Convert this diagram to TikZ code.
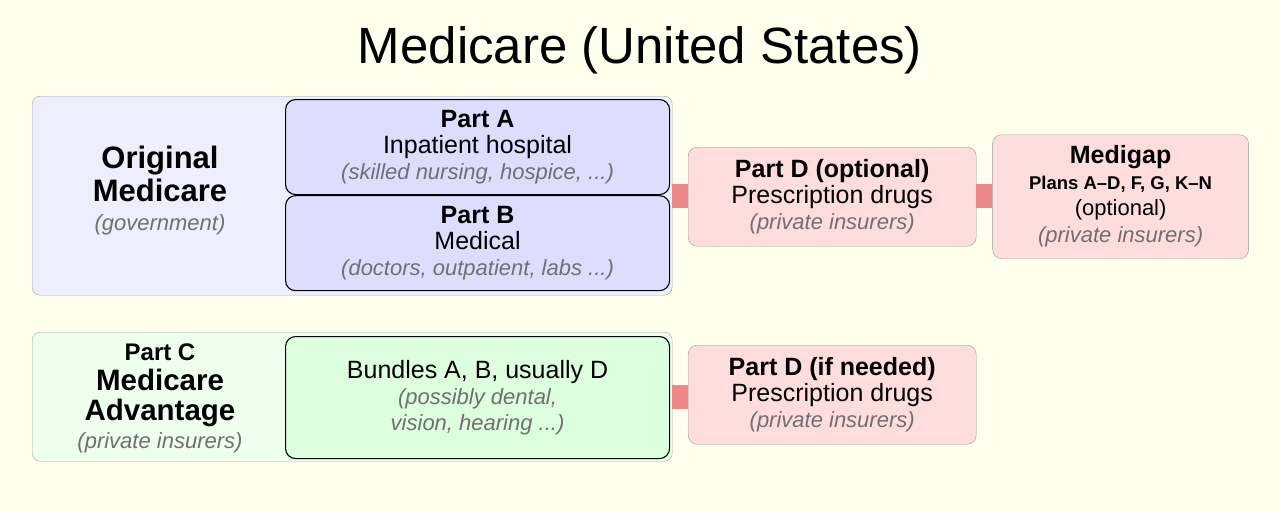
\documentclass[tikz,border=0pt]{standalone}
\usepackage{fontspec}
\setmainfont{Liberation Sans}
\usetikzlibrary{positioning}

\definecolor{paper}{HTML}{FFFFEE}
\definecolor{origfill}{HTML}{EEEEFF}
\definecolor{partfill}{HTML}{DDDDFF}
\definecolor{advfill}{HTML}{EEFFEE}
\definecolor{bundfill}{HTML}{DDFFDD}
\definecolor{drugfill}{HTML}{FFDDDD}
\definecolor{linkred}{HTML}{EE8888}
\definecolor{note}{HTML}{707070}

\newcommand{\fs}[2]{\fontsize{#1}{#2}\selectfont}
\newcommand{\aside}[1]{{\fs{22}{26}\itshape\color{note}#1}}

\begin{document}
\begin{tikzpicture}[
        x=1pt, y=-1pt,
        every node/.style={align=center, inner sep=0pt, font=\fs{25}{26}},
        group/.style={draw=black!35, rounded corners=8pt, anchor=north west},
        part/.style={draw=black, line width=1.1pt, rounded corners=10pt, fill=partfill,
          minimum width=384pt, minimum height=95pt, anchor=north west},
        drug/.style={draw=black!40, rounded corners=9pt, fill=drugfill,
          minimum width=288pt, minimum height=99pt, anchor=north west},
        link/.style={draw=linkred, line width=24pt}
      ]

    \fill[paper] (0,0) rectangle (1280,512);
    \useasboundingbox (0,0) rectangle (1280,512);

    \node (title) at (640,50) {\fs{51}{56}Medicare (United States)};

    % original medicare
    \node (orig) [group, fill=origfill, minimum width=640pt, minimum height=199pt] at (32,96) {};
    \node (partA) [part] at (285,99) {{\bfseries Part A}\\Inpatient hospital\\\aside{(skilled nursing, hospice, ...)}};
    \node (partB) [part, below=0pt of partA] {{\bfseries Part B}\\Medical\\\aside{(doctors, outpatient, labs ...)}};
    \node (origlabel) at (160,191) {\fs{31}{31}\bfseries Original\\[3pt]\fs{31}{31}\bfseries Medicare\\[3pt]\aside{(government)}};

    \node (partDopt) [drug] at (688,147) {{\bfseries Part D (optional)}\\Prescription drugs\\\aside{(private insurers)}};
    \node (medigap) [drug, minimum width=256pt, minimum height=124pt, right=16pt of partDopt] {{\bfseries Medigap}\\[0pt]\fs{18.5}{24}\bfseries Plans A–D, F, G, K–N\\\fs{22}{24}(optional)\\[1pt]\aside{(private insurers)}};

    % medicare advantage
    \node (adv) [group, fill=advfill, minimum width=640pt, minimum height=129pt] at (32,332) {};
    \node (bundles) [part, fill=bundfill, minimum height=122pt] at (285,336) {Bundles A, B, usually D\\\aside{(possibly dental,}\\\aside{vision, hearing ...)}};
    \node (advlabel) at (160,398) {\fs{24}{28}\bfseries Part C\\[4pt]\fs{29.5}{30}\bfseries Medicare\\[4pt]\fs{29.5}{30}\bfseries Advantage\\[2pt]\aside{(private insurers)}};

    \node (partDneed) [drug] at (688,345) {{\bfseries Part D (if needed)}\\Prescription drugs\\\aside{(private insurers)}};

    \draw[link] (orig.east) -- (orig.east -| partDopt.west);
    \draw[link] (partDopt.east |- orig.east) -- (orig.east -| medigap.west);
    \draw[link] (adv.east) -- (adv.east -| partDneed.west);

\end{tikzpicture}
\end{document}
